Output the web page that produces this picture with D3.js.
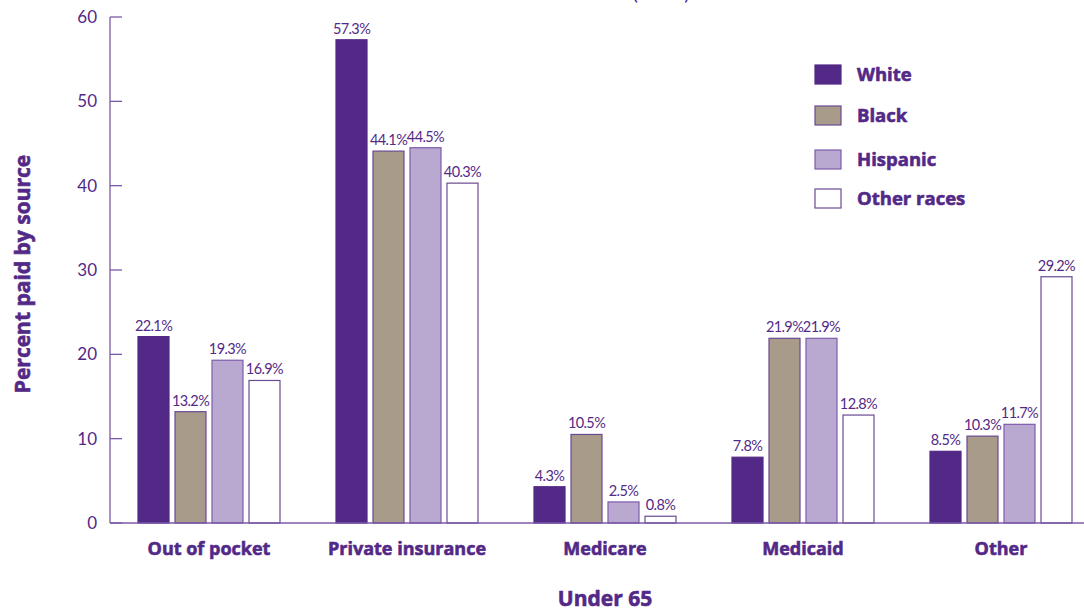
<!DOCTYPE html>
<html><head><meta charset="utf-8">
<script src="https://cdn.jsdelivr.net/npm/d3@7"></script>
<style>
body{margin:0;background:#fff;}
svg{display:block;font-family:Lato,"Open Sans",sans-serif;}
.b{font-family:"Open Sans",Lato,sans-serif;font-weight:700;stroke:#532987;stroke-width:0.6px;}
</style></head>
<body><svg id="c" width="1084" height="613"></svg>
<script>
const categories = ["Out of pocket","Private insurance","Medicare","Medicaid","Other"];
const seriesNames = ["White","Black","Hispanic","Other races"];
const white    = [22.1, 57.3, 4.3, 7.8, 8.5];
const black    = [13.2, 44.1, 10.5, 21.9, 10.3];
const hispanic = [19.3, 44.5, 2.5, 21.9, 11.7];
const other    = [16.9, 40.3, 0.8, 12.8, 29.2];
const yTicks = [0,10,20,30,40,50,60];
const xTitle = "Under 65";
const yTitle = "Percent paid by source";

const series = [white, black, hispanic, other];
const fills = ["#532987","#a89b8a","#b9a8d0","#ffffff"];
const strokes = ["#532987","#6a4a92","#7e5cab","#6a4a92"];
const ink = "#532987";
const axisCol = "#7a5aa6";

const svg = d3.select("#c");
const x0 = d3.scaleBand().domain(categories).range([110,1100]).paddingInner(0).paddingOuter(0);
const x1 = d3.scaleBand().domain(seriesNames).range([-71,71]).paddingInner(0.162).paddingOuter(0.0);
const y = d3.scaleLinear().domain([0,60]).range([523,17]);

// partial title at top (cut off in the reference)
svg.append("text").attr("x",661).attr("y",0).attr("text-anchor","middle")
  .attr("font-size",20).attr("fill",ink).text("(2008)");

// y axis
svg.append("line").attr("x1",110).attr("x2",110).attr("y1",y(60)).attr("y2",y(0))
  .attr("stroke",axisCol).attr("stroke-width",1.3);
svg.selectAll(".tk").data(yTicks).enter().append("line")
  .attr("x1",110).attr("x2",122).attr("y1",d=>y(d)).attr("y2",d=>y(d))
  .attr("stroke",axisCol).attr("stroke-width",1.3);
svg.selectAll(".tl").data(yTicks).enter().append("text")
  .attr("x",97).attr("y",d=>y(d)+6).attr("text-anchor","end")
  .attr("font-size",17).attr("fill",ink).text(d=>d);

// bars
const groups = svg.selectAll(".g").data(categories).enter().append("g")
  .attr("transform",d=>`translate(${x0(d)+x0.bandwidth()/2},0)`);
seriesNames.forEach((s,si)=>{
  groups.append("rect")
    .attr("x",x1(s)).attr("width",x1.bandwidth())
    .attr("y",(d,i)=>y(series[si][i])).attr("height",(d,i)=>y(0)-y(series[si][i]))
    .attr("fill",fills[si]).attr("stroke",strokes[si]).attr("stroke-width",1.2);
  groups.append("text")
    .attr("x",x1(s)+x1.bandwidth()/2).attr("y",(d,i)=>y(series[si][i])-6)
    .attr("text-anchor","middle").attr("font-size",14.5).attr("fill",ink)
    .attr("letter-spacing",-0.6)
    .text((d,i)=>series[si][i].toFixed(1)+"%");
});

// x axis line
svg.append("line").attr("x1",110).attr("x2",1084).attr("y1",y(0)).attr("y2",y(0))
  .attr("stroke",axisCol).attr("stroke-width",1.5);

// category labels
svg.selectAll(".cl").data(categories).enter().append("text").attr("class","b")
  .attr("x",d=>x0(d)+x0.bandwidth()/2).attr("y",555).attr("text-anchor","middle")
  .attr("font-size",18).attr("fill",ink).text(d=>d);

// titles
svg.append("text").attr("class","b").attr("x",605).attr("y",606).attr("text-anchor","middle")
  .attr("font-size",21).attr("fill",ink).text(xTitle);
svg.append("text").attr("class","b").attr("transform","translate(30,274) rotate(-90)").attr("text-anchor","middle")
  .attr("font-size",21).attr("fill",ink).text(yTitle);

// legend
const legY = [65,106,150,189];
const leg = svg.selectAll(".lg").data(seriesNames).enter().append("g")
  .attr("transform",(d,i)=>`translate(815,${legY[i]})`);
leg.append("rect").attr("width",26).attr("height",19)
  .attr("fill",(d,i)=>fills[i]).attr("stroke",(d,i)=>strokes[i]).attr("stroke-width",1.2);
leg.append("text").attr("class","b").attr("x",42).attr("y",16).attr("font-size",18.5)
  .attr("fill",ink).text(d=>d);
</script></body></html>
